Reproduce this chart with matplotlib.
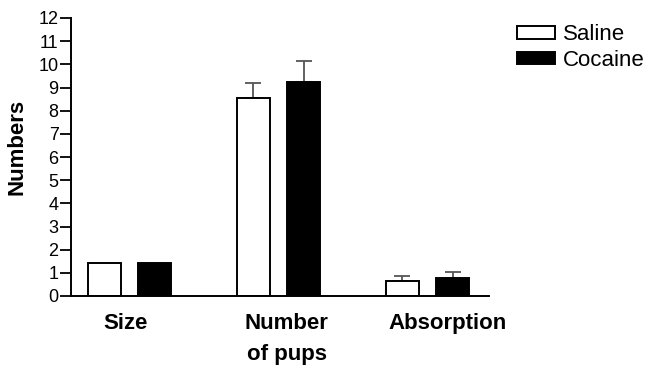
import matplotlib
matplotlib.use("Agg")
import matplotlib.pyplot as plt
import numpy as np

plt.rcParams['font.family'] = ['Liberation Sans', 'DejaVu Sans']

categories = ["Size", "Number\nof pups", "Absorption"]
series_names = ["Saline", "Cocaine"]
saline = [1.42, 8.53, 0.63]
cocaine = [1.44, 9.24, 0.76]
saline_err = [0.0, 0.66, 0.22]
cocaine_err = [0.0, 0.92, 0.26]
yticks = list(range(0, 13))

fig = plt.figure(figsize=(6.5, 3.68), dpi=100)
ax = fig.add_axes([71/650, 1-296/368, (489-71)/650, (296-18)/368])

x = np.arange(len(categories))
w = 0.22
off = 0.168

ax.bar(x - off, saline, w, color='white', edgecolor='black', linewidth=1.4,
       label=series_names[0], zorder=2)
ax.bar(x + off, cocaine, w, color='black', edgecolor='black', linewidth=1.4,
       label=series_names[1], zorder=2)

# upper-only error bars
for xs, vals, errs in [(x - off, saline, saline_err), (x + off, cocaine, cocaine_err)]:
    for xi, v, e in zip(xs, vals, errs):
        if e > 0:
            ax.errorbar(xi, v, yerr=[[0], [e]], fmt='none', ecolor='#555555',
                        elinewidth=1.3, capsize=6, capthick=1.3, zorder=1)

ax.set_xlim(-0.393, 2.413)
ax.set_ylim(0, 12)
ax.set_yticks(yticks)
ax.set_yticklabels([str(t) for t in yticks], fontsize=13)
ax.set_xticks([])
for s in ['top', 'right']:
    ax.spines[s].set_visible(False)
ax.spines['left'].set_linewidth(1.4)
ax.spines['bottom'].set_linewidth(1.4)
ax.tick_params(axis='y', length=8, width=1.3, pad=1)

label_x = [-0.03, 1.055, 2.134]
for lx, lab in zip(label_x, categories):
    ax.text(lx, -0.062, lab, transform=ax.get_xaxis_transform(), ha='center',
            va='top', fontsize=16, fontweight='bold', linespacing=1.6)

fig.text(17.5/650, 1-146.5/368, "Numbers", rotation=90, ha='center', va='center',
         fontsize=16, fontweight='bold')

leg = ax.legend(loc='upper left', bbox_to_anchor=(516.7/650, 1-24.5/368),
                bbox_transform=fig.transFigure, frameon=False, fontsize=16,
                handlelength=1.71, handleheight=0.5, handletextpad=0.36,
                labelspacing=0.19, borderpad=0, borderaxespad=0)

fig.savefig("out.png", dpi=100)
